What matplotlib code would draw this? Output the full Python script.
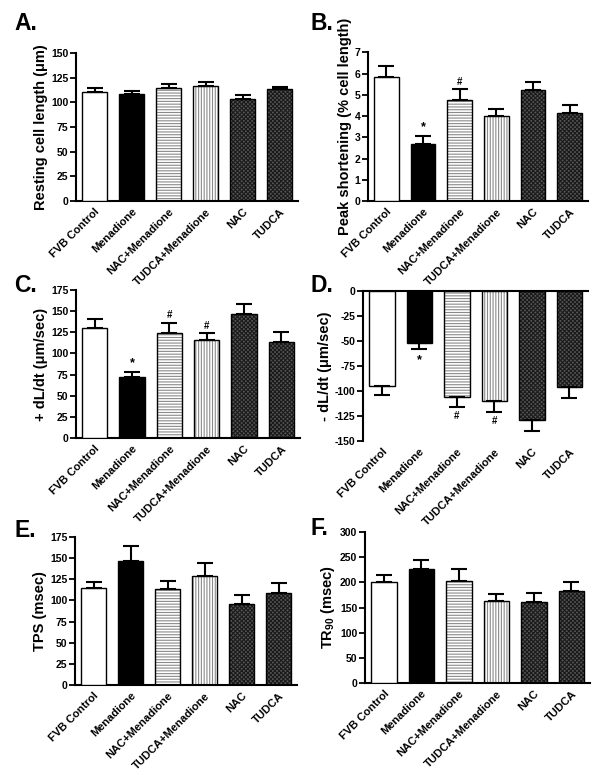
import matplotlib
matplotlib.use("Agg")
import matplotlib.pyplot as plt
import numpy as np

plt.rcParams['font.family'] = ['Liberation Sans', 'DejaVu Sans']
plt.rcParams['font.weight'] = 'bold'
plt.rcParams['mathtext.fontset'] = 'custom'
plt.rcParams['mathtext.rm'] = 'Liberation Sans:bold'
plt.rcParams['mathtext.bf'] = 'Liberation Sans:bold'
plt.rcParams['hatch.linewidth'] = 0.8

groups = ["FVB Control", "Menadione", "NAC+Menadione", "TUDCA+Menadione", "NAC", "TUDCA"]

a_mean = [110.2, 108.5, 114.2, 116.9, 103.7, 113.2]
a_err = [4.0, 3.4, 4.1, 4.1, 3.4, 2.5]

b_mean = [5.85, 2.70, 4.74, 4.00, 5.23, 4.13]
b_err = [0.52, 0.38, 0.52, 0.32, 0.37, 0.40]

c_mean = [130.2, 71.6, 124.3, 115.6, 147.1, 113.6]
c_err = [10.2, 7.0, 12.1, 8.7, 11.8, 11.4]

d_mean = [-94.7, -52.0, -105.7, -110.0, -128.7, -96.0]
d_err = [9.3, 6.3, 10.0, 10.7, 11.6, 11.3]

e_mean = [115.0, 146.7, 113.6, 128.6, 95.6, 109.0]
e_err = [7.3, 17.3, 9.4, 15.7, 10.6, 11.7]

f_mean = [200.6, 225.8, 202.0, 163.0, 161.0, 182.0]
f_err = [14.6, 19.2, 25.0, 13.0, 17.0, 19.0]

b_marks = {1: "*", 2: "#"}
c_marks = {1: "*", 2: "#", 3: "#"}
d_marks = {1: "*", 2: "#", 3: "#"}

W, H = 602, 783
fig = plt.figure(figsize=(W / 100, H / 100), dpi=100)


def make_ax(x0, x1, ytop, ybot):
    return fig.add_axes([x0 / W, 1 - ybot / H, (x1 - x0) / W, (ybot - ytop) / H])


face = ['white', 'black', 'white', 'white', '#555555', '#555555']
hatch_col = [None, None, '#8a8a8a', '#8a8a8a', '#1a1a1a', '#1a1a1a']
hatches = [None, None, '------', '||||||', 'xxxxxxxx', 'xxxxxxxx']


def panel(ax, means, errs, ylim, yticks, ylabel, letter, lx, ly, marks=None, neg=False):
    x = np.arange(len(means))
    wd = 0.68
    for i in range(len(means)):
        if hatches[i]:
            ax.bar(x[i], means[i], wd, color=face[i], edgecolor=hatch_col[i],
                   hatch=hatches[i], linewidth=0, zorder=2)
            ax.bar(x[i], means[i], wd, color='none', edgecolor='black', linewidth=1.0, zorder=3)
        else:
            ax.bar(x[i], means[i], wd, color=face[i], edgecolor='black', linewidth=1.0, zorder=3)
    if neg:
        yerr = [errs, [0] * len(errs)]
    else:
        yerr = [[0] * len(errs), errs]
    ax.errorbar(x, means, yerr=yerr, fmt='none', ecolor='black', elinewidth=1.5,
                capsize=6, capthick=1.5, zorder=4)
    ax.set_xlim(-0.5, 5.5)
    ax.set_ylim(*ylim)
    ax.set_yticks(yticks)
    ax.set_yticklabels([str(t) for t in yticks], fontsize=7.5, fontweight='bold')
    ax.set_xticks(x)
    ax.set_xticklabels(groups, rotation=45, ha='right', rotation_mode='anchor',
                       fontsize=8, fontweight='bold')
    ax.tick_params(axis='x', length=0, pad=4)
    ax.tick_params(axis='y', length=4, width=1.3, pad=1.5)
    ax.set_ylabel(ylabel, fontsize=10.5, fontweight='bold', labelpad=2)
    ax.spines['right'].set_visible(False)
    ax.spines['left'].set_linewidth(1.5)
    if neg:
        ax.spines['bottom'].set_visible(False)
        ax.spines['top'].set_linewidth(1.5)
    else:
        ax.spines['top'].set_visible(False)
        ax.spines['bottom'].set_linewidth(1.5)
    span = ylim[1] - ylim[0]
    if marks:
        for i, m in marks.items():
            if neg:
                yy = means[i] - errs[i] - 0.03 * span
                va = 'top'
            else:
                yy = means[i] + errs[i] + 0.015 * span
                va = 'bottom'
            fs = 9 if m == '*' else 7
            ax.text(x[i], yy, m, ha='center', va=va, fontsize=fs, fontweight='bold')
    fig.text(lx / W, 1 - ly / H, letter, fontsize=16.5, fontweight='bold', ha='left', va='top')


axA = make_ax(76, 298, 53, 201)
panel(axA, a_mean, a_err, (0, 150), [0, 25, 50, 75, 100, 125, 150],
      'Resting cell length (μm)', 'A.', 14, 12)

axB = make_ax(368, 588, 52.3, 201)
panel(axB, b_mean, b_err, (0, 7), [0, 1, 2, 3, 4, 5, 6, 7],
      'Peak shortening (% cell length)', 'B.', 310, 12, marks=b_marks)

axC = make_ax(76, 300, 290, 438)
panel(axC, c_mean, c_err, (0, 175), [0, 25, 50, 75, 100, 125, 150, 175],
      '+ dL/dt (μm/sec)', 'C.', 14, 274, marks=c_marks)

axD = make_ax(363, 588, 291, 441)
panel(axD, d_mean, d_err, (-150, 0), [-150, -125, -100, -75, -50, -25, 0],
      '- dL/dt (μm/sec)', 'D.', 310, 274, marks=d_marks, neg=True)

axE = make_ax(75, 297, 537, 685)
panel(axE, e_mean, e_err, (0, 175), [0, 25, 50, 75, 100, 125, 150, 175],
      'TPS (msec)', 'E.', 14, 519)

axF = make_ax(365, 590, 532, 683)
panel(axF, f_mean, f_err, (0, 300), [0, 50, 100, 150, 200, 250, 300],
      'TR$_{90}$ (msec)', 'F.', 310, 517)

fig.savefig('out.png', dpi=100)
